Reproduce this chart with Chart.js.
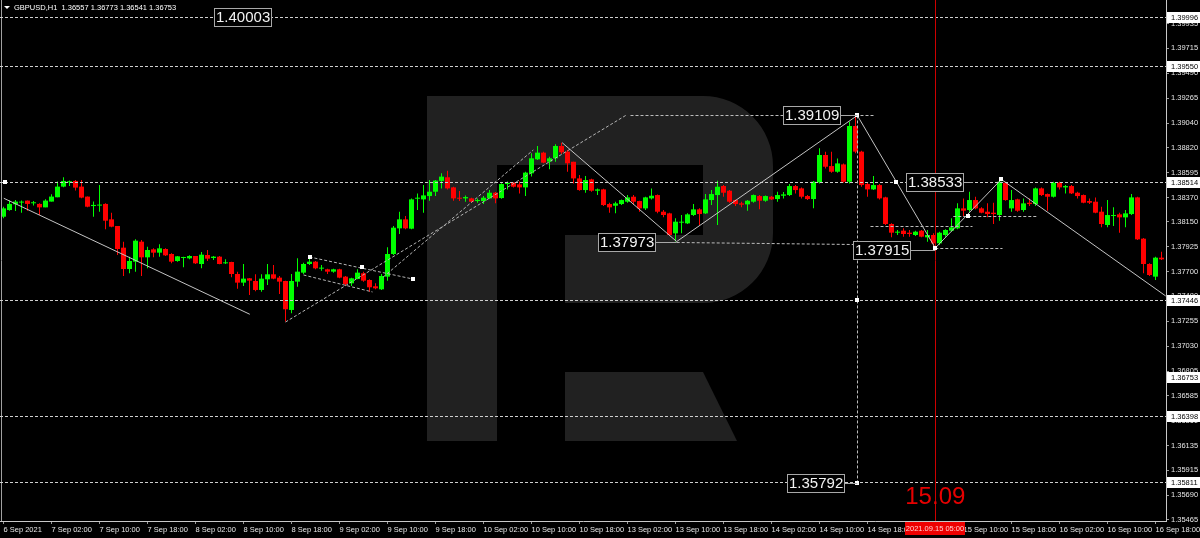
<!DOCTYPE html>
<html>
<head>
<meta charset="utf-8">
<script src="https://cdn.jsdelivr.net/npm/chart.js@4.4.1/dist/chart.umd.min.js"></script>
<style>
  html, body { margin: 0; padding: 0; background: #000; overflow: hidden; }
  canvas { display: block; }
</style>
</head>
<body>
<canvas id="chart" width="1200" height="538"></canvas>
<script>
// GBPUSD H1, one value per hourly bar (6 Sep 18:00 ... 16 Sep 19:00)
const openPrices = [
  1.38197, 1.38257, 1.38309, 1.38324, 1.38342, 1.38318, 1.38312, 1.38281, 1.38333, 1.38372,
  1.38468, 1.38507, 1.38519, 1.38468, 1.38378, 1.38293, 1.38297, 1.38312, 1.38173, 1.38113,
  1.37918, 1.37726, 1.37792, 1.37972, 1.37831, 1.37903, 1.37873, 1.37906, 1.37861, 1.37798,
  1.37825, 1.37822, 1.37843, 1.37771, 1.37852, 1.37825, 1.37837, 1.37777, 1.37789, 1.37681,
  1.37603, 1.37642, 1.37618, 1.37537, 1.37633, 1.37678, 1.37648, 1.37618, 1.37357, 1.37612,
  1.37693, 1.37771, 1.37792, 1.37729, 1.37723, 1.37702, 1.37723, 1.37657, 1.37597, 1.37636,
  1.37687, 1.37627, 1.37570, 1.37543, 1.37657, 1.37861, 1.38092, 1.38173, 1.38089, 1.38359,
  1.38353, 1.38383, 1.38422, 1.38519, 1.38552, 1.38461, 1.38368, 1.38362, 1.38362, 1.38338,
  1.38338, 1.38362, 1.38413, 1.38365, 1.38491, 1.38503, 1.38488, 1.38461, 1.38588, 1.38714,
  1.38774, 1.38693, 1.38723, 1.38834, 1.38783, 1.38692, 1.38542, 1.38437, 1.38533, 1.38431,
  1.38443, 1.38311, 1.38296, 1.38311, 1.38332, 1.38377, 1.38338, 1.38272, 1.38362, 1.38392,
  1.38242, 1.38227, 1.38047, 1.38143, 1.38137, 1.38212, 1.38263, 1.38227, 1.38347, 1.38392,
  1.38473, 1.38431, 1.38347, 1.38317, 1.38308, 1.38332, 1.38383, 1.38341, 1.38377, 1.38356,
  1.38386, 1.38392, 1.38473, 1.38452, 1.38383, 1.38356, 1.38506, 1.38753, 1.38653, 1.38602,
  1.38668, 1.38512, 1.39014, 1.38783, 1.38491, 1.38443, 1.38482, 1.38371, 1.38131, 1.38053,
  1.38071, 1.38053, 1.38032, 1.38071, 1.38011, 1.38032, 1.37957, 1.38032, 1.38071, 1.38092,
  1.38272, 1.38257, 1.38347, 1.38272, 1.38242, 1.38233, 1.38212, 1.38503, 1.38272, 1.38353,
  1.38257, 1.38323, 1.38311, 1.38452, 1.38401, 1.38377, 1.38503, 1.38461, 1.38473, 1.38413,
  1.38392, 1.38338, 1.38332, 1.38242, 1.38122, 1.38203, 1.38218, 1.38191, 1.38221, 1.38371,
  1.37999, 1.37771, 1.37657, 1.37828
];
const highPrices = [
  1.38287, 1.38342, 1.38348, 1.38342, 1.38342, 1.38339, 1.38318, 1.38354, 1.38399, 1.38513,
  1.38552, 1.38522, 1.38528, 1.38528, 1.38378, 1.38333, 1.38483, 1.38318, 1.38233, 1.38113,
  1.37972, 1.37837, 1.37993, 1.37987, 1.37927, 1.37912, 1.37948, 1.37912, 1.37867, 1.37843,
  1.37837, 1.37849, 1.37843, 1.37879, 1.37897, 1.37843, 1.37843, 1.37813, 1.37792, 1.37702,
  1.37771, 1.37645, 1.37678, 1.37678, 1.37771, 1.37762, 1.37663, 1.37621, 1.37681, 1.37822,
  1.37783, 1.37837, 1.37798, 1.37762, 1.37729, 1.37729, 1.37729, 1.37663, 1.37648, 1.37723,
  1.37702, 1.37633, 1.37597, 1.37681, 1.37921, 1.38113, 1.38242, 1.38203, 1.38362, 1.38407,
  1.38483, 1.38528, 1.38528, 1.38588, 1.38612, 1.38467, 1.38428, 1.38389, 1.38368, 1.38362,
  1.38383, 1.38437, 1.38419, 1.38498, 1.38513, 1.38510, 1.38513, 1.38603, 1.38768, 1.38834,
  1.38783, 1.38738, 1.38849, 1.38864, 1.38798, 1.38692, 1.38572, 1.38563, 1.38539, 1.38452,
  1.38449, 1.38323, 1.38332, 1.38353, 1.38392, 1.38392, 1.38341, 1.38377, 1.38452, 1.38398,
  1.38257, 1.38233, 1.38182, 1.38212, 1.38227, 1.38311, 1.38272, 1.38401, 1.38437, 1.38521,
  1.38482, 1.38437, 1.38353, 1.38332, 1.38347, 1.38398, 1.38392, 1.38389, 1.38383, 1.38422,
  1.38419, 1.38491, 1.38482, 1.38461, 1.38392, 1.38518, 1.38813, 1.38783, 1.38783, 1.38722,
  1.38677, 1.39053, 1.39109, 1.38792, 1.38503, 1.38563, 1.38491, 1.38377, 1.38137, 1.38077,
  1.38092, 1.38077, 1.38071, 1.38077, 1.38077, 1.38047, 1.38062, 1.38083, 1.38182, 1.38317,
  1.38362, 1.38422, 1.38377, 1.38281, 1.38317, 1.38323, 1.38533, 1.38512, 1.38437, 1.38359,
  1.38362, 1.38362, 1.38461, 1.38461, 1.38407, 1.38512, 1.38512, 1.38482, 1.38482, 1.38422,
  1.38398, 1.38362, 1.38371, 1.38287, 1.38347, 1.38281, 1.38233, 1.38257, 1.38401, 1.38377,
  1.38005, 1.37777, 1.37837, 1.37882
];
const lowPrices = [
  1.38182, 1.38251, 1.38248, 1.38233, 1.38251, 1.38297, 1.38212, 1.38281, 1.38333, 1.38372,
  1.38462, 1.38474, 1.38432, 1.38363, 1.38281, 1.38197, 1.38242, 1.38083, 1.38101, 1.37852,
  1.37663, 1.37687, 1.37702, 1.37663, 1.37732, 1.37831, 1.37837, 1.37843, 1.37777, 1.37792,
  1.37741, 1.37813, 1.37771, 1.37732, 1.37798, 1.37807, 1.37768, 1.37771, 1.37651, 1.37549,
  1.37573, 1.37492, 1.37525, 1.37522, 1.37582, 1.37633, 1.37501, 1.37252, 1.37327, 1.37567,
  1.37681, 1.37762, 1.37723, 1.37711, 1.37681, 1.37693, 1.37642, 1.37573, 1.37573, 1.37633,
  1.37612, 1.37522, 1.37543, 1.37537, 1.37621, 1.37852, 1.38041, 1.38083, 1.38083, 1.38257,
  1.38233, 1.38341, 1.38383, 1.38452, 1.38443, 1.38341, 1.38338, 1.38332, 1.38323, 1.38323,
  1.38311, 1.38356, 1.38317, 1.38359, 1.38443, 1.38461, 1.38407, 1.38383, 1.38558, 1.38708,
  1.38678, 1.38624, 1.38693, 1.38762, 1.38603, 1.38497, 1.38431, 1.38413, 1.38422, 1.38392,
  1.38293, 1.38233, 1.38227, 1.38302, 1.38323, 1.38302, 1.38242, 1.38257, 1.38353, 1.38227,
  1.38191, 1.38023, 1.37973, 1.38047, 1.38131, 1.38203, 1.38122, 1.38221, 1.38302, 1.38122,
  1.38377, 1.38323, 1.38293, 1.38281, 1.38251, 1.38323, 1.38263, 1.38332, 1.38347, 1.38332,
  1.38362, 1.38383, 1.38407, 1.38362, 1.38347, 1.38272, 1.38497, 1.38632, 1.38593, 1.38593,
  1.38503, 1.38497, 1.38768, 1.38467, 1.38377, 1.38437, 1.38353, 1.38122, 1.38011, 1.38032,
  1.38017, 1.38017, 1.38023, 1.38011, 1.37972, 1.37915, 1.37942, 1.38017, 1.38062, 1.38083,
  1.38203, 1.38242, 1.38263, 1.38227, 1.38191, 1.38131, 1.38161, 1.38341, 1.38242, 1.38242,
  1.38242, 1.38293, 1.38293, 1.38383, 1.38251, 1.38371, 1.38443, 1.38407, 1.38401, 1.38362,
  1.38317, 1.38311, 1.38227, 1.38101, 1.38101, 1.38113, 1.38053, 1.38101, 1.38212, 1.37987,
  1.37687, 1.37662, 1.37626, 1.37807
];
const closePrices = [
  1.38272, 1.38312, 1.38333, 1.38333, 1.38312, 1.38324, 1.38281, 1.38342, 1.38378, 1.38468,
  1.38519, 1.38513, 1.38459, 1.38369, 1.38287, 1.38303, 1.38303, 1.38161, 1.38107, 1.37906,
  1.37726, 1.37798, 1.37981, 1.37831, 1.37897, 1.37873, 1.37912, 1.37849, 1.37792, 1.37840,
  1.37831, 1.37843, 1.37777, 1.37855, 1.37819, 1.37837, 1.37771, 1.37783, 1.37681, 1.37603,
  1.37639, 1.37621, 1.37537, 1.37639, 1.37678, 1.37639, 1.37612, 1.37363, 1.37618, 1.37702,
  1.37771, 1.37792, 1.37732, 1.37738, 1.37702, 1.37723, 1.37648, 1.37591, 1.37642, 1.37693,
  1.37621, 1.37561, 1.37552, 1.37663, 1.37861, 1.38098, 1.38173, 1.38092, 1.38353, 1.38368,
  1.38389, 1.38422, 1.38522, 1.38558, 1.38452, 1.38362, 1.38359, 1.38374, 1.38332, 1.38347,
  1.38368, 1.38413, 1.38362, 1.38491, 1.38503, 1.38467, 1.38461, 1.38594, 1.38723, 1.38774,
  1.38684, 1.38723, 1.38834, 1.38777, 1.38678, 1.38542, 1.38437, 1.38527, 1.38431, 1.38443,
  1.38302, 1.38281, 1.38317, 1.38347, 1.38371, 1.38332, 1.38272, 1.38371, 1.38386, 1.38242,
  1.38212, 1.38032, 1.38152, 1.38152, 1.38218, 1.38263, 1.38221, 1.38353, 1.38401, 1.38467,
  1.38413, 1.38332, 1.38311, 1.38305, 1.38341, 1.38392, 1.38341, 1.38383, 1.38353, 1.38392,
  1.38398, 1.38473, 1.38437, 1.38377, 1.38356, 1.38512, 1.38753, 1.38647, 1.38602, 1.38677,
  1.38512, 1.39014, 1.38783, 1.38482, 1.38443, 1.38482, 1.38362, 1.38131, 1.38053, 1.38062,
  1.38041, 1.38041, 1.38062, 1.38017, 1.38032, 1.37957, 1.38053, 1.38077, 1.38101, 1.38272,
  1.38251, 1.38347, 1.38272, 1.38233, 1.38221, 1.38221, 1.38512, 1.38347, 1.38347, 1.38251,
  1.38317, 1.38311, 1.38452, 1.38392, 1.38377, 1.38503, 1.38461, 1.38473, 1.38407, 1.38383,
  1.38323, 1.38323, 1.38233, 1.38131, 1.38212, 1.38212, 1.38191, 1.38227, 1.38371, 1.37993,
  1.37771, 1.37672, 1.37828, 1.37813
];

// time scale: one label every 8 bars
const timeLabels = [
  "6 Sep 2021", "7 Sep 02:00", "7 Sep 10:00", "7 Sep 18:00", "8 Sep 02:00", "8 Sep 10:00",
  "8 Sep 18:00", "9 Sep 02:00", "9 Sep 10:00", "9 Sep 18:00", "10 Sep 02:00", "10 Sep 10:00",
  "10 Sep 18:00", "13 Sep 02:00", "13 Sep 10:00", "13 Sep 18:00", "14 Sep 02:00", "14 Sep 10:00",
  "14 Sep 18:00", "15 Sep 02:00", "15 Sep 10:00", "15 Sep 18:00", "16 Sep 02:00", "16 Sep 10:00",
  "16 Sep 18:00"
];
const priceTicks = [
  1.39935, 1.39715, 1.39490, 1.39265, 1.39040, 1.38820, 1.38595, 1.38370, 1.38150, 1.37925,
  1.37700, 1.37480, 1.37255, 1.37030, 1.36805, 1.36585, 1.36360, 1.36135, 1.35915, 1.35690,
  1.35465
];

// horizontal levels across the whole chart, and price marks boxed on the axis
const levelPrices = [1.39996, 1.39550, 1.38514, 1.37446, 1.36398, 1.35811];
const axisMarkPrices = [1.39996, 1.39550, 1.38514, 1.37446, 1.36753, 1.36398, 1.35811];

// wave drawn through the swing points
const zigzagBars = [93.1, 112.2, 142.3, 155.3, 166.3, 193.7];
const zigzagPrices = [1.38864, 1.37973, 1.39109, 1.37915, 1.38533, 1.37483];

// falling trend line at the left
const trendBars = [0.05, 41.05];
const trendPrices = [1.38363, 1.37318];

// dashed helper lines: [bar1, price1, bar2, price2]
const dashedLines = [
  [47, 1.37248, 103.7, 1.39109],
  [63.3, 1.37654, 88.3, 1.38798],
  [51, 1.37834, 68.2, 1.37636],
  [50, 1.37672, 61.5, 1.37519]
];
const dashedLevels = [
  [104.5, 1.39109, 145.3, 1.39109],
  [112.2, 1.37973, 141.7, 1.37950],
  [144.5, 1.38113, 161.5, 1.38113],
  [158.3, 1.38203, 172.3, 1.38203],
  [155.3, 1.37915, 166.5, 1.37915]
];
const dropBar = 142.3;
const dropPrices = [1.39109, 1.35798];

// price notes
const notePrices = [1.40003, 1.39109, 1.37973, 1.38533, 1.37915, 1.35792];

// small point markers
const markerBars = [142.3, 155.3, 166.3, 148.8, 160.8, 51, 59.7, 68.2, 142.3, 142.3, 0.3];
const markerPrices = [1.39109, 1.37915, 1.38533, 1.38514, 1.38203, 1.37834, 1.37744, 1.37636, 1.37446, 1.35798, 1.38514];

const eventBar = 155.3;
const eventLabel = "15.09";
const eventTime = "2021.09.15 05:00";
const header = "GBPUSD,H1  1.36557 1.36773 1.36541 1.36753";

// ---- layout / style (not data) ----
const FONT = '"Liberation Sans", Arial, sans-serif';
const bull = '#00ff00';
const bear = '#ff0000';
const lineGrey = '#c4c4c4';
const candleColors = closePrices.map((c, i) => (c >= openPrices[i] ? bull : bear));
// where each note box sits: [bar of right edge, price of centre, bar it points to]
const noteBoxes = [
  [44.8, 1.39996, null],
  [139.5, 1.39109, 142.3],
  [108.8, 1.37973, 112.2],
  [160.0, 1.38514, 161.6],
  [151.2, 1.37901, 155.3],
  [140.3, 1.35798, 142.3]
];

function twoPoint(x1, y1, x2, y2) {
  return [{ x: x1, y: y1 }, { x: x2, y: y2 }];
}

const lineSets = [];
lineSets.push({
  type: 'line',
  data: zigzagBars.map((b, i) => ({ x: b, y: zigzagPrices[i] })),
  borderColor: lineGrey, borderWidth: 1, pointRadius: 0, tension: 0, order: 0
});
lineSets.push({
  type: 'line',
  data: twoPoint(trendBars[0], trendPrices[0], trendBars[1], trendPrices[1]),
  borderColor: lineGrey, borderWidth: 1, pointRadius: 0, order: 0
});
dashedLines.forEach(function (d) {
  lineSets.push({
    type: 'line',
    data: twoPoint(d[0], d[1], d[2], d[3]),
    borderColor: '#b4b4b4', borderWidth: 1, borderDash: [3, 2], pointRadius: 0, order: 0
  });
});

const decor = {
  id: 'decor',
  beforeDraw(chart) {
    const ctx = chart.ctx;
    ctx.save();
    ctx.fillStyle = '#000';
    ctx.fillRect(0, 0, chart.width, chart.height);
    ctx.restore();
  },
  beforeDatasetsDraw(chart) {
    // faint "R" logo in the background
    const ctx = chart.ctx;
    ctx.save();
    ctx.fillStyle = '#212121';
    ctx.beginPath();
    ctx.moveTo(427, 96);
    ctx.lineTo(703, 96);
    ctx.arcTo(773, 96, 773, 166, 70);
    ctx.lineTo(773, 233);
    ctx.arcTo(773, 303, 703, 303, 70);
    ctx.lineTo(565, 303);
    ctx.lineTo(565, 235);
    ctx.lineTo(703, 235);
    ctx.lineTo(703, 165);
    ctx.lineTo(497, 165);
    ctx.lineTo(497, 441);
    ctx.lineTo(427, 441);
    ctx.closePath();
    ctx.fill();
    ctx.beginPath();
    ctx.moveTo(565, 372);
    ctx.lineTo(703, 372);
    ctx.lineTo(737, 441);
    ctx.lineTo(565, 441);
    ctx.closePath();
    ctx.fill();
    ctx.restore();
  },
  afterDatasetsDraw(chart) {
    const ctx = chart.ctx;
    const xs = chart.scales.x, ys = chart.scales.y;
    const area = chart.chartArea;
    const px = v => xs.getPixelForValue(v);
    const py = v => ys.getPixelForValue(v);
    const snap = v => Math.round(v) + 0.5;

    ctx.save();
    ctx.beginPath();
    ctx.rect(area.left, area.top, area.right - area.left, area.bottom - area.top);
    ctx.clip();

    // left frame
    ctx.strokeStyle = '#a0a0a0';
    ctx.lineWidth = 1;
    ctx.beginPath();
    ctx.moveTo(1.5, area.top);
    ctx.lineTo(1.5, area.bottom);
    ctx.stroke();

    // full width levels
    ctx.strokeStyle = '#cfcfcf';
    ctx.setLineDash([3, 2]);
    levelPrices.forEach(function (p) {
      const y = snap(py(p));
      ctx.beginPath();
      ctx.moveTo(area.left, y);
      ctx.lineTo(area.right, y);
      ctx.stroke();
    });
    // short dashed levels
    ctx.strokeStyle = '#bcbcbc';
    dashedLevels.forEach(function (d) {
      ctx.beginPath();
      ctx.moveTo(px(d[0]), snap(py(d[1])));
      ctx.lineTo(px(d[2]), snap(py(d[3])));
      ctx.stroke();
    });
    // vertical drop line
    ctx.beginPath();
    ctx.moveTo(snap(px(dropBar)), py(dropPrices[0]));
    ctx.lineTo(snap(px(dropBar)), py(dropPrices[1]));
    ctx.stroke();
    ctx.setLineDash([]);

    // red time line
    ctx.strokeStyle = '#cc0000';
    ctx.beginPath();
    ctx.moveTo(snap(px(eventBar)), area.top);
    ctx.lineTo(snap(px(eventBar)), area.bottom);
    ctx.stroke();

    // markers
    ctx.fillStyle = '#ffffff';
    markerBars.forEach(function (b, i) {
      const x = Math.round(px(b)), y = Math.round(py(markerPrices[i]));
      ctx.fillRect(x - 2, y - 2, 4, 4);
    });

    // price notes
    ctx.font = '15px ' + FONT;
    ctx.textBaseline = 'middle';
    ctx.textAlign = 'left';
    noteBoxes.forEach(function (nb, i) {
      const text = notePrices[i].toFixed(5);
      const w = Math.round(ctx.measureText(text).width) + 4;
      const h = 19;
      const right = Math.round(px(nb[0]));
      const cy = Math.round(py(nb[1]));
      const left = right - w;
      const top = cy - 9;
      if (nb[2] !== null) {
        ctx.strokeStyle = '#a8a8a8';
        ctx.beginPath();
        ctx.moveTo(right, cy + 0.5);
        ctx.lineTo(px(nb[2]), cy + 0.5);
        ctx.stroke();
      }
      ctx.fillStyle = '#000';
      ctx.fillRect(left, top, w, h);
      ctx.strokeStyle = '#a8a8a8';
      ctx.strokeRect(left + 0.5, top + 0.5, w - 1, h - 1);
      ctx.fillStyle = '#f2f2f2';
      ctx.fillText(text, left + 2, cy + 1);
    });

    // event date text
    ctx.fillStyle = '#e60000';
    ctx.font = '24px ' + FONT;
    ctx.textAlign = 'center';
    ctx.textBaseline = 'alphabetic';
    ctx.fillText(eventLabel, px(eventBar), 504);
    ctx.restore();
  },
  afterDraw(chart) {
    const ctx = chart.ctx;
    const xs = chart.scales.x, ys = chart.scales.y;
    const area = chart.chartArea;
    ctx.save();
    // boxed prices on the axis
    ctx.font = '7.5px ' + FONT;
    ctx.textBaseline = 'middle';
    ctx.textAlign = 'left';
    axisMarkPrices.forEach(function (p) {
      const y = Math.round(ys.getPixelForValue(p));
      ctx.fillStyle = '#ffffff';
      ctx.fillRect(area.right + 1, y - 5, chart.width - area.right - 1, 11);
      ctx.fillStyle = '#000';
      ctx.fillText(p.toFixed(5), area.right + 5, y + 0.5);
    });
    // red time box
    const ex = Math.round(xs.getPixelForValue(eventBar));
    ctx.fillStyle = '#ee0000';
    ctx.fillRect(ex - 30, area.bottom + 1, 60, 13);
    ctx.fillStyle = '#ffd0d0';
    ctx.textAlign = 'center';
    ctx.fillText(eventTime, ex, area.bottom + 8);
    // header
    ctx.fillStyle = '#ffffff';
    ctx.beginPath();
    ctx.moveTo(4, 6);
    ctx.lineTo(10, 6);
    ctx.lineTo(7, 9);
    ctx.closePath();
    ctx.fill();
    ctx.font = '7.5px ' + FONT;
    ctx.textAlign = 'left';
    ctx.fillText(header, 14, 8);
    ctx.restore();
  }
};

const ctx = document.getElementById('chart').getContext('2d');
new Chart(ctx, {
  type: 'bar',
  data: {
    datasets: lineSets.concat([
      {
        type: 'bar',
        label: 'body',
        data: openPrices.map((o, i) => ({ x: i, y: [o, closePrices[i]] })),
        backgroundColor: candleColors,
        barThickness: 5,
        minBarLength: 1,
        grouped: false,
        inflateAmount: 0,
        borderWidth: 0,
        order: 1
      },
      {
        type: 'bar',
        label: 'wick',
        data: lowPrices.map((l, i) => ({ x: i, y: [l, highPrices[i]] })),
        backgroundColor: candleColors,
        barThickness: 1,
        minBarLength: 1,
        grouped: false,
        inflateAmount: 0,
        borderWidth: 0,
        order: 2
      }
    ])
  },
  options: {
    responsive: false,
    animation: false,
    devicePixelRatio: 1,
    layout: { padding: 0 },
    plugins: { legend: { display: false }, tooltip: { enabled: false } },
    scales: {
      x: {
        type: 'linear',
        offset: false,
        bounds: 'data',
        min: -3.5 / 6,
        max: -3.5 / 6 + 1166 / 6,
        grid: { display: true, drawOnChartArea: false, drawTicks: true, tickLength: 3, color: '#9a9a9a', offset: false },
        border: { display: true, color: '#c8c8c8' },
        ticks: {
          autoSkip: false,
          maxRotation: 0,
          align: 'start',
          padding: 1,
          color: '#e6e6e6',
          font: { family: FONT, size: 7.5 },
          callback: (v, i) => timeLabels[i]
        },
        afterBuildTicks(axis) {
          axis.ticks = timeLabels.map((_, k) => ({ value: k * 8 }));
        },
        afterFit(axis) {
          axis.height = 17;
          axis.paddingLeft = 0;
          axis.paddingRight = 0;
        }
      },
      y: {
        type: 'linear',
        position: 'right',
        bounds: 'data',
        beginAtZero: false,
        min: 1.40149 - 521 * 0.00009008,
        max: 1.40149,
        grid: { display: true, drawOnChartArea: false, drawTicks: true, tickLength: 3, color: '#9a9a9a' },
        border: { display: true, color: '#c8c8c8' },
        ticks: {
          padding: 2,
          color: '#e6e6e6',
          font: { family: FONT, size: 7.5 },
          callback: v => Number(v).toFixed(5)
        },
        afterBuildTicks(axis) {
          axis.ticks = priceTicks.map(v => ({ value: v }));
        },
        afterFit(axis) {
          axis.width = 34;
          axis.paddingTop = 0;
          axis.paddingBottom = 0;
        }
      }
    }
  },
  plugins: [decor]
});
</script>
</body>
</html>
